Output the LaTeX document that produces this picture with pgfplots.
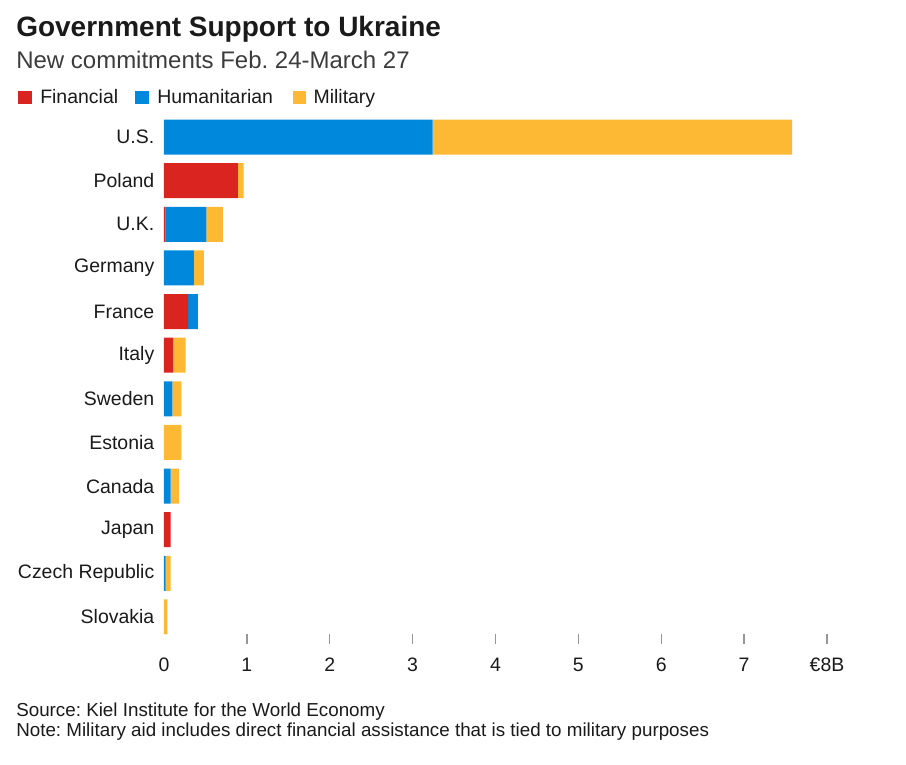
\documentclass[border=0pt]{standalone}
\usepackage{pgfplots}
\pgfplotsset{compat=1.18}
\usepackage{pgfplotstable}
\usepackage{fontspec}
\setmainfont{Liberation Sans}
\frenchspacing
\definecolor{cfin}{RGB}{217,36,31}
\definecolor{chum}{RGB}{0,136,221}
\definecolor{cmil}{RGB}{253,185,51}
\definecolor{ctext}{RGB}{26,26,26}
\definecolor{ctick}{RGB}{150,150,150}

% y: 11 = U.S. ... 0 = Slovakia
\pgfplotstableread{
y    fin   hum   mil
11   0     3.24  4.34
10   0.89  0     0.07
9    0.02  0.49  0.20
8    0     0.36  0.12
7    0.29  0.12  0
6    0.11  0     0.15
5    0     0.10  0.11
4    0     0     0.21
3    0     0.08  0.10
2    0.08  0     0
1    0     0.02  0.06
0    0     0     0.04
}\datatable

\begin{document}
\begin{tikzpicture}
\begin{scope}[x=0.75pt,y=-0.75pt]
\path[use as bounding box] (0,0) rectangle (906,764);
\node[anchor=base west,inner sep=0pt,text=ctext,font=\fontsize{21}{25}\selectfont\bfseries] at (16,36) {Government Support to Ukraine};
\node[anchor=base west,inner sep=0pt,text=ctext!85,font=\fontsize{18}{21}\selectfont] at (16,68.3) {New commitments Feb. 24-March 27};
% legend
\fill[cfin] (18,90.7) rectangle (31.5,104);
\node[anchor=base west,inner sep=0pt,text=ctext,font=\fontsize{14.6}{17}\selectfont] at (40,103.3) {Financial};
\fill[chum] (135,90.7) rectangle (148.5,104);
\node[anchor=base west,inner sep=0pt,text=ctext,font=\fontsize{14.6}{17}\selectfont] at (157,103.3) {Humanitarian};
\fill[cmil] (292.7,90.7) rectangle (306.2,104);
\node[anchor=base west,inner sep=0pt,text=ctext,font=\fontsize{14.6}{17}\selectfont] at (313.3,103.3) {Military};
% footer
\node[anchor=base west,inner sep=0pt,text=ctext,font=\fontsize{14.1}{17}\selectfont] at (16,716.7) {Source: Kiel Institute for the World Economy};
\node[anchor=base west,inner sep=0pt,text=ctext,font=\fontsize{14.1}{17}\selectfont] at (16,736.7) {Note: Military aid includes direct financial assistance that is tied to military purposes};
\end{scope}
\begin{axis}[
  at={(123pt,-479.1pt)}, anchor=south west,
  scale only axis, width=497.25pt, height=392.7pt,
  xmin=0, xmax=8, ymin=-0.5, ymax=11.5,
  xbar stacked, bar width=26.25pt,
  axis line style={draw=none},
  tick pos=left,
  xtick={1,...,8}, xticklabels={1,2,3,4,5,6,7,€8B},
  extra x ticks={0}, extra x tick labels={0},
  extra x tick style={major tick length=0pt, x tick label style={yshift=-3.75pt}},
  tick align=center, major tick length=7.5pt,
  x tick style={draw=ctick, line width=1.1pt},
  x tick label style={font=\fontsize{14.6}{17}\selectfont, text=ctext, yshift=-7pt},
  ytick={0,...,11},
  yticklabels={Slovakia,Czech Republic,Japan,Canada,Estonia,Sweden,Italy,France,Germany,U.K.,Poland,U.S.},
  y tick style={draw=none},
  y tick label style={font=\fontsize{14.6}{17}\selectfont, text=ctext},
  clip=false,
]
\addplot[fill=cfin, draw=none] table[x=fin,y=y] {\datatable};
\addplot[fill=chum, draw=none] table[x=hum,y=y] {\datatable};
\addplot[fill=cmil, draw=none] table[x=mil,y=y] {\datatable};
\end{axis}
\end{tikzpicture}
\end{document}
